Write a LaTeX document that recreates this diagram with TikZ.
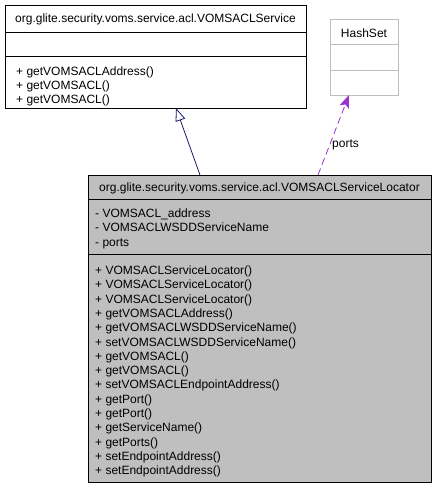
\documentclass[tikz,border=0pt]{standalone}
\usepackage{fontspec}
\setmainfont{Liberation Sans}
\usetikzlibrary{arrows.meta,calc}
\definecolor{edgeblue}{HTML}{191970}
\definecolor{edgepurple}{HTML}{9A32CD}
\definecolor{fillgray}{HTML}{BFBFBF}
\begin{document}
\begin{tikzpicture}[x=1pt,y=-1pt,
  box/.style={draw=black, line width=0.8pt, inner sep=0pt, outer sep=0pt, anchor=north west},
  graybox/.style={draw=fillgray, line width=0.8pt, inner sep=0pt, outer sep=0pt, anchor=north west},
  txt/.style={inner sep=0pt, anchor=base west, font=\fontsize{12}{14.4}\selectfont},
  ctxt/.style={inner sep=0pt, anchor=base, font=\fontsize{12}{14.4}\selectfont},
  inherit/.style={draw=edgeblue, line width=0.8pt, -{Triangle[open, length=13pt, width=10pt, fill=white]}},
  usage/.style={draw=edgepurple, line width=0.8pt, dash pattern=on 7pt off 4pt, -{Stealth[length=13pt, width=10pt, inset=3pt]}}
]
\useasboundingbox (0,0) rectangle (436,488);
\fill[white] (0,0) rectangle (436,488);

% Base class box
\node[box, minimum width=301pt, minimum height=103pt] (svc) at (5,5) {};
\draw[line width=0.8pt] ($(svc.north west)+(0,27)$) -- ($(svc.north east)+(0,27)$);
\draw[line width=0.8pt] ($(svc.north west)+(0,51)$) -- ($(svc.north east)+(0,51)$);
\node[ctxt] (svct) at (155.5,22) {org.glite.security.voms.service.acl.VOMSACLService};
\node[txt] (svm1) at (16,75) {+ getVOMSACLAddress()};
\node[txt] (svm2) at (16,89.3) {+ getVOMSACL()};
\node[txt] (svm3) at (16,103.6) {+ getVOMSACL()};

% HashSet box
\node[graybox, minimum width=68pt, minimum height=76pt] (hs) at (330,19) {};
\draw[draw=fillgray, line width=0.8pt] ($(hs.north west)+(0,25)$) -- ($(hs.north east)+(0,25)$);
\draw[draw=fillgray, line width=0.8pt] ($(hs.north west)+(0,51)$) -- ($(hs.north east)+(0,51)$);
\node[ctxt] (hst) at (364,37.5) {HashSet};

% Locator box
\node[box, fill=fillgray, minimum width=343pt, minimum height=307pt] (loc) at (88,175) {};
\draw[line width=0.8pt] ($(loc.north west)+(0,24)$) -- ($(loc.north east)+(0,24)$);
\draw[line width=0.8pt] ($(loc.north west)+(0,79)$) -- ($(loc.north east)+(0,79)$);
\node[ctxt] (loct) at (259.5,191.5) {org.glite.security.voms.service.acl.VOMSACLServiceLocator};
\node[txt] (la1) at (95,217.5) {- VOMSACL\_address};
\node[txt] (la2) at (95,231.8) {- VOMSACLWSDDServiceName};
\node[txt] (la3) at (95,246.1) {- ports};
\foreach \t [count=\i from 0] in {
  + VOMSACLServiceLocator(),
  + VOMSACLServiceLocator(),
  + VOMSACLServiceLocator(),
  + getVOMSACLAddress(),
  + getVOMSACLWSDDServiceName(),
  + setVOMSACLWSDDServiceName(),
  + getVOMSACL(),
  + getVOMSACL(),
  + setVOMSACLEndpointAddress(),
  + getPort(),
  + getPort(),
  + getServiceName(),
  + getPorts(),
  + setEndpointAddress(),
  + setEndpointAddress()}
  \node[txt] (lm\i) at (95,274.5+14.3*\i) {\t};

% Connectors
\coordinate (inhS) at ($(loc.north west)+(112,0)$);
\coordinate (inhE) at ($(svc.south west)+(171,0)$);
\draw[inherit] (inhS) -- (inhE);
\coordinate (useS) at ($(loc.north west)+(230,0)$);
\coordinate (useE) at ($(hs.south west)+(19,0)$);
\draw[usage] (useS) -- (useE);
\node[txt] (portslbl) at (332,147.5) {ports};
\end{tikzpicture}
\end{document}
